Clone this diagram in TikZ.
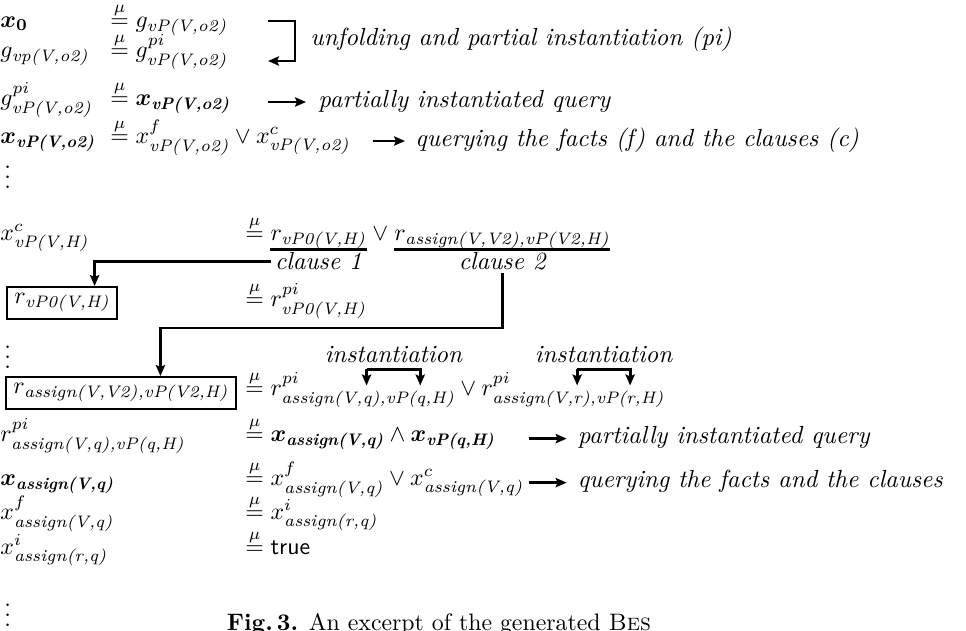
\documentclass[tikz,border=0pt]{standalone}
\usepackage{amsmath,amssymb}
\usetikzlibrary{arrows.meta,calc}
\newcommand{\mueq}{\overset{\mu}{=}}
\newcommand{\sub}[1]{\text{\itshape #1}}
\newcommand{\bsub}[1]{\text{\bfseries\itshape #1}}
\newlength\posQa \newlength\posQb \newlength\posRa \newlength\posRb
\newlength\wdQ \newlength\wdR
\begin{document}
% positions of the instantiated arguments inside the clause of row 7
\settowidth{\wdQ}{$\scriptstyle\sub{q}$}%
\settowidth{\wdR}{$\scriptstyle\sub{r}$}%
\settowidth{\posQa}{$\mueq r^{pi}_{\sub{assign(V,}}$}%
\settowidth{\posQb}{$\mueq r^{pi}_{\sub{assign(V,q),vP(}}$}%
\settowidth{\posRa}{$\mueq r^{pi}_{\sub{assign(V,q),vP(q,H)}} \vee r^{pi}_{\sub{assign(V,}}$}%
\settowidth{\posRb}{$\mueq r^{pi}_{\sub{assign(V,q),vP(q,H)}} \vee r^{pi}_{\sub{assign(V,r),vP(}}$}%
\setlength\posQa{\dimexpr\posQa-\scriptspace+0.5\wdQ\relax}%
\setlength\posQb{\dimexpr\posQb-\scriptspace+0.5\wdQ\relax}%
\setlength\posRa{\dimexpr\posRa-\scriptspace+0.5\wdR\relax}%
\setlength\posRb{\dimexpr\posRb-\scriptspace+0.5\wdR\relax}%
\begin{tikzpicture}[x=0.42pt,y=-0.42pt,
  txt/.style={inner sep=0pt,anchor=base west},
  note/.style={inner sep=0pt,anchor=base west,font=\fontsize{10.4}{12}\selectfont\itshape},
  conn/.style={line width=1.2pt,-{Stealth[length=4.6pt,width=3.9pt,inset=0.8pt]}},
  wire/.style={line width=1.2pt},
  bx/.style={draw,line width=1pt,inner xsep=3pt,inner ysep=2.5pt,
             text height=4.4pt,text depth=4pt,anchor=north west}]
\useasboundingbox (0,0) rectangle (966,630);
\clip (0,0) rectangle (966,630);

% unfolding of the initial variable
\node[txt] (l1) at (0,27)   {$\boldsymbol{x_0}$};
\node[txt] (r1) at (110,27) {$\mueq g_{\sub{vP(V,o2)}}$};
\node[txt] (l2) at (0,57)   {$g_{\sub{vp(V,o2)}}$};
\node[txt] (r2) at (110,57) {$\mueq g^{pi}_{\sub{vP(V,o2)}}$};
\node[txt] (l3) at (0,105)  {$g^{pi}_{\sub{vP(V,o2)}}$};
\node[txt] (r3) at (110,105){$\mueq \boldsymbol{x}_{\bsub{vP(V,o2)}}$};
\node[txt] (l4) at (0,143)  {$\boldsymbol{x}_{\bsub{vP(V,o2)}}$};
\node[txt] (r4) at (110,143){$\mueq x^{f}_{\sub{vP(V,o2)}} \vee x^{c}_{\sub{vP(V,o2)}}$};

\coordinate (lpA) at (268,21);
\coordinate (lpB) at (268,61);
\draw[conn] (lpA) -- (295,21) -- (295,61) -- (lpB);
\node[note] (n1) at (310,45) {unfolding and partial instantiation (pi)};

\node[note] (n3) at (318,107) {partially instantiated query};
\coordinate (a3) at (268,102);
\coordinate (e3) at (306,102);
\draw[conn] (a3) -- (e3);

\node[note] (n4) at (415,146) {querying the facts (f) and the clauses (c)};
\coordinate (a4) at (373,141);
\coordinate (e4) at (405,141);
\draw[conn] (a4) -- (e4);

\node[txt] (d1) at (4,188) {$\smash{\vdots}$};

% the two clauses of vP
\node[txt] (l5) at (0,240) {$x^{c}_{\sub{vP(V,H)}}$};
\node[txt] (e5) at (245,240) {$\mueq$};
\node[txt] (t1) at ([xshift=2.4pt]e5.base east) {$r_{\sub{vP0(V,H)}}$};
\node[txt] (v5) at ([xshift=2.22pt]t1.base east) {$\vee$};
\node[txt] (t2) at ([xshift=2.22pt]v5.base east) {$r_{\sub{assign(V,V2),vP(V2,H)}}$};
\draw[wire] ([yshift=-0.2pt]t1.south west) -- ([yshift=-0.2pt]t1.south east);
\draw[wire] ([yshift=-0.2pt]t2.south west) -- ([yshift=-0.2pt]t2.south east);
\node[note,anchor=base] (c1) at ([yshift=-12.5pt]t1.base) {clause 1};
\node[note,anchor=base] (c2) at ([yshift=-12.5pt]t2.base) {clause 2};

\node[bx] (b1) at (6,286) {$r_{\sub{vP0(V,H)}}$};
\node[txt] (r6) at (245,306) {$\mueq r^{pi}_{\sub{vP0(V,H)}}$};
\coordinate (k1) at ($(b1.north west)!0.79!(b1.north east)$);
\draw[conn] ([xshift=-1.5pt]c1.west) -| (k1);

\node[txt] (d2) at (4,368) {$\smash{\vdots}$};

\node[bx] (b2) at (5,376) {$r_{\sub{assign(V,V2),vP(V2,H)}}$};
\coordinate (k2) at ($(b2.north west)!0.67!(b2.north east)$);
\coordinate (bend2) at (k2 |- 0,328);
\draw[conn] ([yshift=-1pt]c2.south) |- (bend2) -- (k2);

\node[txt] (r7) at (245,395) {$\mueq r^{pi}_{\sub{assign(V,q),vP(q,H)}} \vee r^{pi}_{\sub{assign(V,r),vP(r,H)}}$};

% instantiation of the shared variable V2
\coordinate (q1)  at ([xshift=\posQa,yshift=4pt]r7.base west);
\coordinate (q1t) at ([xshift=\posQa,yshift=10.8pt]r7.base west);
\coordinate (q2)  at ([xshift=\posQb,yshift=4pt]r7.base west);
\coordinate (q2t) at ([xshift=\posQb,yshift=10.8pt]r7.base west);
\coordinate (s1)  at ([xshift=\posRa,yshift=4pt]r7.base west);
\coordinate (s1t) at ([xshift=\posRa,yshift=10.8pt]r7.base west);
\coordinate (s2)  at ([xshift=\posRb,yshift=4pt]r7.base west);
\coordinate (s2t) at ([xshift=\posRb,yshift=10.8pt]r7.base west);
\draw[conn] (q1t) -- (q1);
\draw[conn] (q1t) -- (q2t) -- (q2);
\draw[conn] (s1t) -- (s1);
\draw[conn] (s1t) -- (s2t) -- (s2);
\node[note,anchor=base] (i1) at ([yshift=3pt]$(q1t)!0.5!(q2t)$) {instantiation};
\node[note,anchor=base] (i2) at ([yshift=3pt]$(s1t)!0.5!(s2t)$) {instantiation};

% the second clause, instantiated with q
\node[txt] (l8) at (0,441) {$r^{pi}_{\sub{assign(V,q),vP(q,H)}}$};
\node[txt] (r8) at (245,441) {$\mueq \boldsymbol{x}_{\bsub{assign(V,q)}} \wedge \boldsymbol{x}_{\bsub{vP(q,H)}}$};
\node[txt] (l9) at (0,485) {$\boldsymbol{x}_{\bsub{assign(V,q)}}$};
\node[txt] (r9) at (245,485) {$\mueq x^{f}_{\sub{assign(V,q)}} \vee x^{c}_{\sub{assign(V,q)}}$};

\coordinate (a9) at ([xshift=2pt,yshift=1pt]r9.base east);
\coordinate (a8) at ([yshift=1pt]a9 |- r8.base west);
\node[note] (n8) at ([xshift=20.5pt,yshift=-2.2pt]a8) {partially instantiated query};
\node[note] (n9) at ([xshift=20.5pt,yshift=-2.2pt]a9) {querying the facts and the clauses};
\coordinate (e8) at ([xshift=-4.5pt]n8.base west);
\coordinate (e9) at ([xshift=-4.5pt]n9.base west);
\draw[conn] (a8) -- (e8 |- a8);
\draw[conn] (a9) -- (e9 |- a9);

\node[txt] (l10) at (0,519) {$x^{f}_{\sub{assign(V,q)}}$};
\node[txt] (r10) at (245,519) {$\mueq x^{i}_{\sub{assign(r,q)}}$};
\node[txt] (l11) at (0,554) {$x^{i}_{\sub{assign(r,q)}}$};
\node[txt] (r11) at (245,554) {$\mueq \mathsf{true}$};

\node[txt] (d3) at (4,626) {$\smash{\vdots}$};

\node[inner sep=0pt,anchor=base] (cap) at (439,630)
  {\textbf{Fig.\,3.} An excerpt of the generated \textsc{Bes}};
\end{tikzpicture}
\end{document}
